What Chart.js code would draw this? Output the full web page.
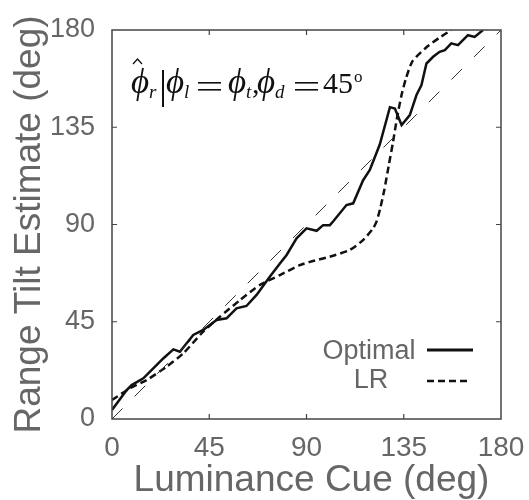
<!DOCTYPE html>
<html>
<head>
<meta charset="utf-8">
<script src="https://cdn.jsdelivr.net/npm/chart.js@4"></script>
<style>
html,body{margin:0;padding:0;background:#fff;}
#wrap{width:529px;height:500px;position:relative;}
</style>
</head>
<body>
<div id="wrap"><canvas id="c" width="529" height="500"></canvas></div>
<script>
// ---- data ----
const optimalX = [0,6.8,9.1,14.5,19.1,23.7,28.4,31.4,37.6,42.2,48.4,53,57.6,62.2,66.9,73,77.7,80.8,85.4,90,94.7,97.7,100.8,102.4,108.5,111.6,116.2,119.3,123.9,128.6,130.9,134,137.8,140.9,143.2,145.5,148.6,151.6,154,157,160.1,164.7,167.8,171.7];
const optimalY = [4.2,13.4,15.7,18.8,23.4,28,32.2,31.1,38.9,41.2,45.8,46.6,51.2,52.3,57.4,65.8,72,75.9,83.6,88.2,87.1,89.7,89.7,91.5,99,99.8,110.5,115.2,127,144.3,143.7,136,140.6,149.9,154.5,164.5,167.6,169.9,170.7,173.8,173,177.6,176.8,180];
const lrX = [0,8.3,16,25.3,33,42.2,49.9,59.2,68.4,77.7,86.9,91.6,100.8,110,116.2,120.8,122.4,124,126,128,130,132,134,136,139,145.5,151.6,157];
const lrY = [8.8,14.2,18,24.2,30.4,40.4,47.3,55,62,66.6,71.2,72.7,75.1,78.2,82.8,88.2,91.3,97,106,117,128,140,150,157.5,165.5,172,176.5,180];
const refX = [0,180];
const refY = [0,180];
const tickValues = [0,45,90,135,180];
const seriesNames = ['Optimal','LR'];
const xTitle = 'Luminance Cue (deg)';
const yTitle = 'Range Tilt Estimate (deg)';

const toPts = (xs, ys) => xs.map((x,i)=>({x:x, y:ys[i]}));
const SANS = "'Liberation Sans', Arial, sans-serif";
const SERIF = "'Liberation Serif', 'Times New Roman', serif";
const GRAY = '#666666';

const decor = {
  id:'decor',
  afterDraw(chart){
    const ctx = chart.ctx, a = chart.chartArea;
    const xs = chart.scales.x, ys = chart.scales.y;
    ctx.save();
    // frame
    ctx.strokeStyle = '#444';
    ctx.lineWidth = 1.5;
    ctx.setLineDash([]);
    ctx.strokeRect(a.left, a.top, a.right - a.left, a.bottom - a.top);
    // inward ticks
    ctx.lineWidth = 1.2;
    const tl = 5;
    tickValues.slice(1,-1).forEach(v=>{
      const px = xs.getPixelForValue(v), py = ys.getPixelForValue(v);
      ctx.beginPath();
      ctx.moveTo(px, a.bottom); ctx.lineTo(px, a.bottom - tl);
      ctx.moveTo(px, a.top); ctx.lineTo(px, a.top + tl);
      ctx.moveTo(a.left, py); ctx.lineTo(a.left + tl, py);
      ctx.moveTo(a.right, py); ctx.lineTo(a.right - tl, py);
      ctx.stroke();
    });
    // legend
    const lx1 = a.left + 315, lx2 = a.left + 361;
    ctx.fillStyle = GRAY;
    ctx.font = '27px ' + SANS;
    ctx.textAlign = 'center';
    ctx.textBaseline = 'middle';
    ctx.fillText(seriesNames[0], a.left + 257, a.top + 322);
    ctx.fillText(seriesNames[1], a.left + 259, a.top + 351);
    ctx.strokeStyle = '#111';
    ctx.lineWidth = 3;
    ctx.beginPath(); ctx.moveTo(lx1, a.top + 320); ctx.lineTo(lx2, a.top + 320); ctx.stroke();
    ctx.lineWidth = 2.5;
    ctx.setLineDash([7,4]);
    ctx.beginPath(); ctx.moveTo(lx1, a.top + 351); ctx.lineTo(lx2 - 3, a.top + 351); ctx.stroke();
    ctx.setLineDash([]);
    // formula
    const bx = a.left, by = a.top + 63;
    ctx.fillStyle = '#111';
    ctx.strokeStyle = '#111';
    ctx.textAlign = 'left';
    ctx.textBaseline = 'alphabetic';
    const PHI = '\u03D5';
    const big = 'italic 35px ' + SERIF, sub = 'italic 19px ' + SERIF, up = '30px ' + SERIF;
    const put = (t, f, x, y) => { ctx.font = f; ctx.fillText(t, bx + x, by + y); };
    const eq = (x1, x2) => {
      ctx.fillRect(bx + x1, by - 11, x2 - x1, 1.6);
      ctx.fillRect(bx + x1, by - 4, x2 - x1, 1.6);
    };
    put(PHI, big, 19, 0);
    // hat
    ctx.lineWidth = 1.3;
    ctx.beginPath();
    ctx.moveTo(bx + 21, by - 29); ctx.lineTo(bx + 25.5, by - 34); ctx.lineTo(bx + 30, by - 29);
    ctx.stroke();
    put('r', sub, 37, 5);
    ctx.fillRect(bx + 50, by - 23, 2, 37);
    put(PHI, big, 54, 0);
    put('l', sub, 72, 5);
    eq(86, 109);
    put(PHI, big, 116, 0);
    put('t', sub, 134, 5);
    put(',', up, 140, 0);
    put(PHI, big, 145, 0);
    put('d', sub, 163, 5);
    eq(183, 206);
    put('45', up, 211, 0);
    put('o', '17px ' + SERIF, 242, -11);
    // axis titles
    ctx.fillStyle = GRAY;
    ctx.font = '37px ' + SANS;
    ctx.textAlign = 'center';
    ctx.textBaseline = 'middle';
    ctx.fillText(xTitle, (a.left + a.right) / 2 + 5, 481);
    ctx.translate(30, (a.top + a.bottom) / 2);
    ctx.rotate(-Math.PI / 2);
    ctx.fillText(yTitle, 0, 0);
    ctx.restore();
  }
};

new Chart(document.getElementById('c'), {
  type:'line',
  data:{
    datasets:[
      {label:'ref', data:toPts(refX, refY), borderColor:'#333', borderWidth:1, borderDash:[15,17], pointRadius:0, fill:false},
      {label:seriesNames[0], data:toPts(optimalX, optimalY), borderColor:'#111', borderWidth:2.5, pointRadius:0, fill:false, tension:0},
      {label:seriesNames[1], data:toPts(lrX, lrY), borderColor:'#111', borderWidth:2.5, borderDash:[7,4], pointRadius:0, fill:false, tension:0.2}
    ]
  },
  options:{
    responsive:false,
    animation:false,
    devicePixelRatio:1,
    layout:{padding:{top:30,right:28,left:0,bottom:0}},
    plugins:{legend:{display:false}, tooltip:{enabled:false}},
    scales:{
      x:{
        type:'linear', min:0, max:180,
        afterBuildTicks:(s)=>{ s.ticks = tickValues.map(v=>({value:v})); },
        afterFit:(s)=>{ s.height = 81; },
        grid:{display:false}, border:{display:false},
        ticks:{font:{family:SANS, size:28}, color:GRAY, padding:4, maxRotation:0, autoSkip:false},
        title:{display:false, text:xTitle}
      },
      y:{
        type:'linear', min:0, max:180,
        afterBuildTicks:(s)=>{ s.ticks = tickValues.map(v=>({value:v})); },
        afterFit:(s)=>{ s.width = 112; },
        grid:{display:false}, border:{display:false},
        ticks:{font:{family:SANS, size:27}, color:GRAY, padding:9, autoSkip:false},
        title:{display:false, text:yTitle}
      }
    }
  },
  plugins:[decor]
});
</script>
</body>
</html>
